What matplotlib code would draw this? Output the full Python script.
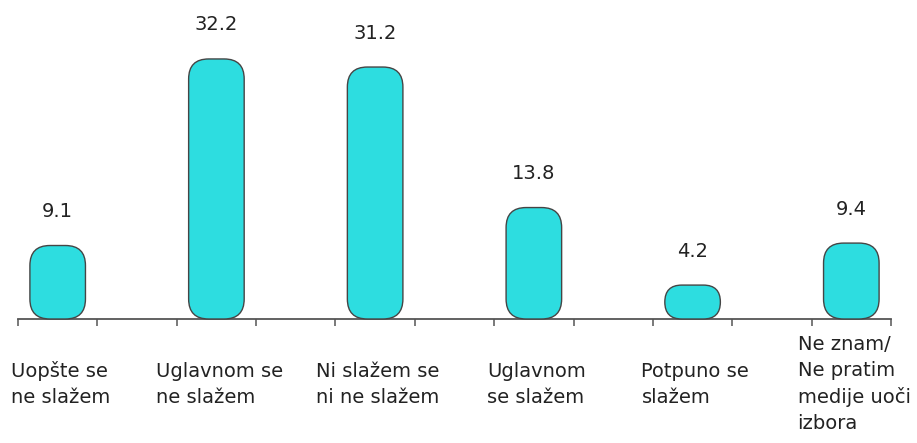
import matplotlib.pyplot as plt
from matplotlib.patches import FancyBboxPatch

categories = [
    "Uopšte se\nne slažem",
    "Uglavnom se\nne slažem",
    "Ni slažem se\nni ne slažem",
    "Uglavnom\nse slažem",
    "Potpuno se\nslažem",
    "Ne znam/\nNe pratim\nmedije uoči\nizbora",
]
values = [9.1, 32.2, 31.2, 13.8, 4.2, 9.4]
positions = [0.5, 2.5, 4.5, 6.5, 8.5, 10.5]

FILL = "#2ddde0"
EDGE = "#454545"
AXIS = "#555555"
TEXT = "#222222"

plt.rcParams["font.family"] = ["DejaVu Sans"]

fig = plt.figure(figsize=(9.17, 4.43), dpi=100)
ax = fig.add_axes([18 / 917, 124 / 443, 873 / 917, 319 / 443])
ax.set_xlim(0, 11)
ax.set_ylim(0, 39.5)

bars = ax.bar(positions, values, width=0.7, color="none", edgecolor="none")

# make corners round in pixel space
fig.canvas.draw()
bbox = ax.get_window_extent()
px_x = bbox.width / 11
px_y = bbox.height / 39.5
aspect = px_x / px_y
radius = 20 / px_x

for rect in bars:
    x, w, h = rect.get_x(), rect.get_width(), rect.get_height()
    r = min(radius, w / 2, h / aspect / 2)
    patch = FancyBboxPatch((x, 0), w, h,
                           boxstyle=f"round,pad=0,rounding_size={r}",
                           mutation_aspect=aspect,
                           facecolor=FILL, edgecolor=EDGE, linewidth=1.0,
                           clip_on=False, zorder=3)
    ax.add_patch(patch)

for pos, val in zip(positions, values):
    ax.annotate(f"{val:.1f}", (pos, val), xytext=(0, 24.5), textcoords="offset points",
                ha="center", va="center", fontsize=14, color=TEXT)

for pos, label in zip(positions, categories):
    ax.annotate(label, (pos, 0), xytext=(2, -47), textcoords="offset points",
                ha="center", va="center", multialignment="left", linespacing=1.45,
                fontsize=14, color=TEXT, annotation_clip=False)

for side in ["top", "right", "left"]:
    ax.spines[side].set_visible(False)
ax.spines["bottom"].set_color(AXIS)
ax.spines["bottom"].set_linewidth(1.3)
ax.set_xticks(range(12))
ax.set_xticklabels([])
ax.set_yticks([])
ax.tick_params(axis="x", direction="out", length=5, width=1.1, color=AXIS)

fig.savefig("out.png", dpi=100)
